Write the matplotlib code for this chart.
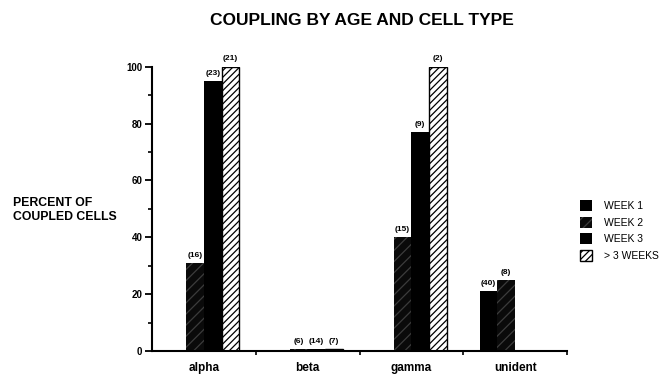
import numpy as np
import matplotlib.pyplot as plt

plt.rcParams['font.family'] = ['Liberation Sans', 'DejaVu Sans']
plt.rcParams['hatch.linewidth'] = 0.9

# data (nan = no bar)
categories = ['alpha', 'beta', 'gamma', 'unident']
series = ['WEEK 1', 'WEEK 2', 'WEEK 3', '> 3 WEEKS']
week1 = [np.nan, np.nan, np.nan, 21]
week2 = [31, 0.6, 40, 25]
week3 = [95, 0.6, 77, np.nan]
week3plus = [100, 0.6, 100, np.nan]

# number of cells, printed above each bar
n_week1 = [None, None, None, 40]
n_week2 = [16, 6, 15, 8]
n_week3 = [23, 14, 9, None]
n_week3plus = [21, 7, 2, None]

values = [week1, week2, week3, week3plus]
counts = [n_week1, n_week2, n_week3, n_week3plus]
styles = [
    dict(color='black', edgecolor='black', linewidth=0),
    dict(color='#0a0a0a', edgecolor='#3c3c3c', hatch='///', linewidth=0),
    dict(color='black', edgecolor='black', linewidth=0),
    dict(color='white', edgecolor='black', hatch='/////', linewidth=1.0),
]

fig = plt.figure(figsize=(6.67, 3.75), dpi=100)
ax = fig.add_axes([0.228, 0.064, 0.622, 0.758])

x = np.arange(len(categories))
w = 0.17
handles = []
for i in range(4):
    pos = x + (i - 1.5) * w
    b = ax.bar(pos, values[i], w, label=series[i], **styles[i])
    handles.append(b)
    for xp, v, n in zip(pos, values[i], counts[i]):
        if n is None or np.isnan(v):
            continue
        ax.text(xp, v + 1.5, '(%d)' % n, ha='center', va='bottom',
                fontsize=6, fontweight='bold')

ax.set_xlim(-0.5, 3.5)
ax.set_ylim(0, 100)
ax.spines['top'].set_visible(False)
ax.spines['right'].set_visible(False)
ax.spines['left'].set_linewidth(1.5)
ax.spines['bottom'].set_linewidth(1.5)

ax.set_yticks(np.arange(0, 101, 20))
ax.set_yticks(np.arange(10, 100, 20), minor=True)
ax.tick_params(axis='y', which='major', length=5, width=1.3, labelsize=7, pad=2)
ax.tick_params(axis='y', which='minor', length=3, width=1.2)
for t in ax.get_yticklabels():
    t.set_fontweight('bold')

ax.set_xticks(x)
ax.set_xticklabels(categories, fontsize=8.5, fontweight='bold')
ax.set_xticks([0.5, 1.5, 2.5, 3.5], minor=True)
ax.tick_params(axis='x', which='major', length=0, pad=8)
ax.tick_params(axis='x', which='minor', length=3, width=1.2)

fig.text(0.542, 0.945, 'COUPLING BY AGE AND CELL TYPE', ha='center', va='center',
         fontsize=12.5, fontweight='bold')
fig.text(0.02, 0.44, 'PERCENT OF\nCOUPLED CELLS', ha='left', va='center',
         fontsize=8.8, fontweight='bold', linespacing=1.3)

fig.legend(handles=handles, labels=series, loc='center left',
           bbox_to_anchor=(0.855, 0.385), frameon=False, fontsize=7.5,
           handlelength=1.2, handleheight=1.2, handletextpad=1.1,
           labelspacing=0.55)

fig.savefig('out.png', dpi=100)
